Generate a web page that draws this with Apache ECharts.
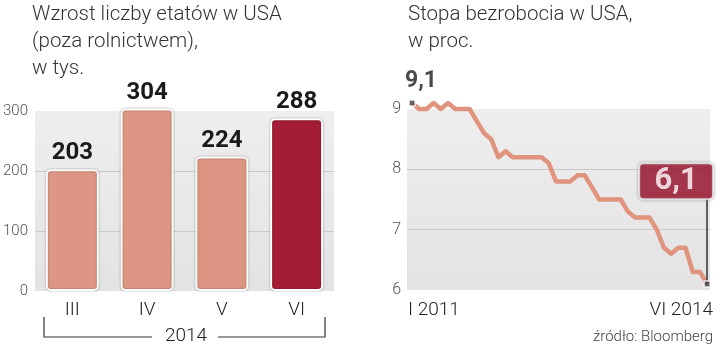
<!DOCTYPE html>
<html><head><meta charset="utf-8">
<script src="https://cdn.jsdelivr.net/npm/echarts@6/dist/echarts.min.js"></script>
<style>html,body{margin:0;padding:0;background:#fff}#c{width:720px;height:348px}</style>
</head><body><div id="c"></div>
<script>
// ---- data ----
const barCategories = ['III', 'IV', 'V', 'VI'];
const barYearLabel = '2014';
const jobsValues = [203, 304, 224, 288];
const jobsTicks = [0, 100, 200, 300];
// monthly unemployment rate, I 2011 .. VI 2014
const rateValues = [
  9.1, 9.0, 9.0, 9.1, 9.0, 9.1, 9.0, 9.0, 9.0, 8.8, 8.6, 8.5,
  8.2, 8.3, 8.2, 8.2, 8.2, 8.2, 8.2, 8.1, 7.8, 7.8, 7.8, 7.9,
  7.9, 7.7, 7.5, 7.5, 7.5, 7.5, 7.3, 7.2, 7.2, 7.2, 7.0, 6.7,
  6.6, 6.7, 6.7, 6.3, 6.3, 6.1
];
const rateTicks = [6, 7, 8, 9];
const rateStartLabel = 'I 2011';
const rateEndLabel = 'VI 2014';
const leftTitle = 'Wzrost liczby etatów w USA\n(poza rolnictwem),\nw tys.';
const rightTitle = 'Stopa bezrobocia w USA,\nw proc.';
const sourceText = 'źródło: Bloomberg';

// ---- styles ----
const LIGHT = '#dd9683';
const DARK = '#a41c36';
const LINE = '#e0937d';
const mkBG = () => new echarts.graphic.LinearGradient(0, 0, 0, 1, [
  {offset: 0, color: '#eeeeee'}, {offset: 1, color: '#e3e3e3'}]);
const LIGHTFONT = 'Roboto';
const BOLDFONT = 'Roboto';
const fmt = v => v.toFixed(1).replace('.', ',');

const chart = echarts.init(document.getElementById('c'), null, {renderer: 'canvas'});
const lastIdx = rateValues.length - 1;

const option = {
  animation: false,
  backgroundColor: '#fff',
  grid: [
    {left: 34, top: 111, width: 300, height: 180, show: true, backgroundColor: mkBG(), borderWidth: 0},
    {left: 407, top: 109, width: 303, height: 181, show: true, backgroundColor: mkBG(), borderWidth: 0}
  ],
  xAxis: [
    {type: 'category', gridIndex: 0, data: barCategories,
     axisLine: {show: false}, axisTick: {show: false},
     axisLabel: {fontSize: 19, color: '#222', margin: 10, fontFamily: LIGHTFONT, fontWeight: 300}},
    {type: 'value', gridIndex: 1, min: -0.7, max: 41.4, show: false}
  ],
  yAxis: [
    {type: 'value', gridIndex: 0, min: jobsTicks[0], max: jobsTicks[jobsTicks.length - 1], interval: 100,
     axisLine: {show: false}, axisTick: {show: false},
     axisLabel: {fontSize: 15, color: '#555', margin: 7, fontFamily: LIGHTFONT, fontWeight: 300},
     splitLine: {showMinLine: false, showMaxLine: false, lineStyle: {color: '#c9c9c9', width: 1}}},
    {type: 'value', gridIndex: 1, min: rateTicks[0], max: rateTicks[rateTicks.length - 1], interval: 1,
     axisLine: {show: false}, axisTick: {show: false},
     axisLabel: {fontSize: 16, color: '#555', margin: 6, fontFamily: LIGHTFONT, fontWeight: 300},
     splitLine: {showMinLine: false, showMaxLine: false, lineStyle: {color: '#c9c9c9', width: 1}}}
  ],
  series: [
    {type: 'bar', xAxisIndex: 0, yAxisIndex: 0, clip: false, barWidth: 53,
     data: jobsValues.map((v, i) => ({value: v, itemStyle: {color: i === jobsValues.length - 1 ? DARK : LIGHT}})),
     itemStyle: {borderColor: '#fff', borderWidth: 2, borderRadius: 4,
                 shadowBlur: 2, shadowColor: 'rgba(0,0,0,0.35)'},
     label: {show: true, position: 'top', distance: 4, fontSize: 24, fontWeight: 'bold',
             fontFamily: BOLDFONT, color: '#1a1a1a'}},
    {type: 'line', xAxisIndex: 1, yAxisIndex: 1, symbol: 'none', z: 3, clip: false,
     data: rateValues.map((v, i) => [i, v]),
     lineStyle: {color: LINE, width: 4.5, join: 'round'},
     markLine: {silent: true, symbol: 'none', animation: false, z: 4,
       lineStyle: {color: '#333', width: 1.5, type: 'solid'}, label: {show: false},
       data: [[{coord: [lastIdx, rateValues[lastIdx]]}, {coord: [lastIdx, rateValues[lastIdx] + 1.45]}]]}},
    {type: 'scatter', xAxisIndex: 1, yAxisIndex: 1, symbol: 'rect', symbolSize: 6, z: 6, clip: false,
     itemStyle: {color: '#444', borderColor: '#fff', borderWidth: 1.5},
     data: [
       {value: [0, rateValues[0]],
        label: {show: true, position: 'top', distance: 6, offset: [9, 0], formatter: fmt(rateValues[0]),
                fontSize: 23, fontWeight: 'bold', fontFamily: BOLDFONT, color: '#1a1a1a'}},
       {value: [lastIdx, rateValues[lastIdx]],
        label: {show: true, position: 'top', distance: 82, offset: [-31, 0], formatter: fmt(rateValues[lastIdx]),
                fontSize: 31, fontWeight: 'bold', fontFamily: BOLDFONT, color: '#fff',
                backgroundColor: DARK, borderColor: '#fff', borderWidth: 2, borderRadius: 3,
                width: 72, align: 'center', padding: [1, 0, 0, 0], lineHeight: 33,
                shadowBlur: 3, shadowColor: 'rgba(0,0,0,0.4)'}}
     ]}
  ],
  graphic: [
    {type: 'text', left: 32, top: 1, style: {text: leftTitle, fontSize: 20.5, fontWeight: 300,
      fontFamily: LIGHTFONT, fill: '#333', lineHeight: 27}},
    {type: 'text', left: 408, top: 1, style: {text: rightTitle, fontSize: 20.5, fontWeight: 300,
      fontFamily: LIGHTFONT, fill: '#333', lineHeight: 27}},
    // bracket under bars
    {type: 'polyline', shape: {points: [[44, 317], [44, 337], [152, 337]]},
     style: {stroke: '#333', lineWidth: 1.2, fill: null}},
    {type: 'polyline', shape: {points: [[218, 337], [325, 337], [325, 317]]},
     style: {stroke: '#333', lineWidth: 1.2, fill: null}},
    {type: 'text', x: 186, y: 336, style: {text: barYearLabel, fontSize: 19, fontWeight: 300,
      fontFamily: LIGHTFONT, fill: '#222', align: 'center', verticalAlign: 'middle'}},
    {type: 'text', x: 408, y: 310, style: {text: rateStartLabel, fontSize: 19, fontWeight: 300,
      fontFamily: LIGHTFONT, fill: '#222', align: 'left', verticalAlign: 'middle'}},
    {type: 'text', x: 713, y: 310, style: {text: rateEndLabel, fontSize: 19, fontWeight: 300,
      fontFamily: LIGHTFONT, fill: '#222', align: 'right', verticalAlign: 'middle'}},
    {type: 'text', x: 713, y: 337, style: {text: sourceText, fontSize: 15, fontWeight: 300,
      fontFamily: LIGHTFONT, fill: '#444', align: 'right', verticalAlign: 'middle'}}
  ]
};
chart.setOption(option);
</script>
</body></html>
